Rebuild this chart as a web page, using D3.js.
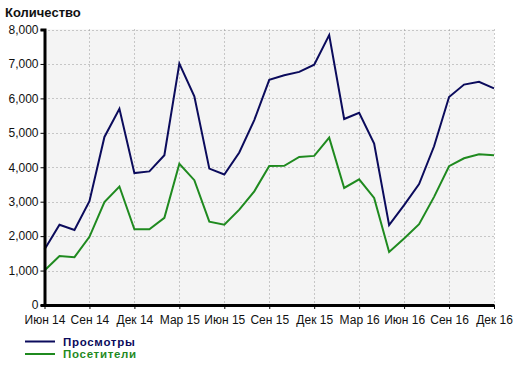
<!DOCTYPE html>
<html><head><meta charset="utf-8">
<script src="https://cdn.jsdelivr.net/npm/d3@7"></script>
<style>body{margin:0;background:#fff;}svg{display:block;font-family:"Liberation Sans",Arial,sans-serif;}</style>
</head><body>
<svg id="c" width="520" height="366"></svg>
<script>
const months = ["2014-06","2014-07","2014-08","2014-09","2014-10","2014-11","2014-12",
"2015-01","2015-02","2015-03","2015-04","2015-05","2015-06","2015-07","2015-08","2015-09","2015-10","2015-11","2015-12",
"2016-01","2016-02","2016-03","2016-04","2016-05","2016-06","2016-07","2016-08","2016-09","2016-10","2016-11","2016-12"];
const views = [1610,2330,2180,3015,4880,5700,3830,3880,4350,7010,6060,3960,3790,4430,5370,6540,6670,6770,6980,7840,5400,5580,4690,2320,2900,3510,4610,6040,6400,6480,6290];
const visitors = [1000,1425,1390,1980,2990,3440,2200,2200,2530,4100,3625,2420,2330,2770,3300,4035,4040,4300,4330,4860,3400,3650,3110,1540,1930,2345,3140,4030,4260,4380,4350];
const tickLabels = ["Июн 14","Сен 14","Дек 14","Мар 15","Июн 15","Сен 15","Дек 15","Мар 16","Июн 16","Сен 16","Дек 16"];
const tickMonths = ["2014-06","2014-09","2014-12","2015-03","2015-06","2015-09","2015-12","2016-03","2016-06","2016-09","2016-12"];
const yTicks = [0,1000,2000,3000,4000,5000,6000,7000,8000];
const seriesNames = ["Просмотры","Посетители"];
const seriesColors = ["#0b0b5c","#1f8a1f"];

const svg = d3.select("#c");
const L = 44.5, R = 494, T = 29.5, B = 305;
const x = d3.scalePoint().domain(months).range([L, R]);
const y = d3.scaleLinear().domain([0, 8000]).range([B, T]);

svg.append("rect").attr("x", L).attr("y", T).attr("width", R - L).attr("height", B - T).attr("fill", "#f4f4f4");

// grid
const g = svg.append("g");
g.selectAll(".hg").data(yTicks.slice(1)).join("line")
  .attr("x1", L).attr("x2", R).attr("y1", d => Math.round(y(d)) + 0.5).attr("y2", d => Math.round(y(d)) + 0.5)
  .attr("stroke", "#999").attr("stroke-dasharray", "1,3");
g.selectAll(".vg").data(tickMonths.slice(1)).join("line")
  .attr("x1", d => Math.round(x(d)) + 0.5).attr("x2", d => Math.round(x(d)) + 0.5).attr("y1", T).attr("y2", B)
  .attr("stroke", "#999").attr("stroke-dasharray", "1,3");

// lines
const line = d3.line().x((d, i) => x(months[i])).y(d => y(d));
[views, visitors].forEach((s, k) => {
  svg.append("path").datum(s).attr("d", line).attr("fill", "none")
    .attr("stroke", seriesColors[k]).attr("stroke-width", 2).attr("stroke-linejoin", "miter");
});

// axes
const yAxis = d3.axisLeft(y).tickValues(yTicks).tickFormat(d3.format(",")).tickSize(4).tickPadding(2);
const ya = svg.append("g").attr("transform", `translate(${L},0)`).call(yAxis);
ya.select(".domain").attr("stroke", "#000").attr("stroke-width", 3);
ya.selectAll("text").attr("font-size", 12).attr("fill", "#111").attr("font-family", "'Liberation Sans',Arial,sans-serif");

const xAxis = d3.axisBottom(x).tickValues(tickMonths).tickFormat((d, i) => tickLabels[i]).tickSize(4).tickPadding(6).tickSizeOuter(0);
const xa = svg.append("g").attr("transform", `translate(0,${B})`).call(xAxis);
xa.select(".domain").attr("stroke", "#000").attr("stroke-width", 3);
xa.selectAll("text").attr("font-size", 12).attr("fill", "#111").attr("font-family", "'Liberation Sans',Arial,sans-serif");

// title
svg.append("text").attr("x", 5).attr("y", 17).attr("font-size", 13).attr("font-weight", "bold").attr("fill", "#111").text("Количество");

// legend
seriesNames.forEach((n, k) => {
  const yy = 341.5 + k * 12.5;
  svg.append("line").attr("x1", 25).attr("x2", 55).attr("y1", yy).attr("y2", yy).attr("stroke", seriesColors[k]).attr("stroke-width", 2);
  svg.append("text").attr("x", 63).attr("y", yy + 4).attr("font-size", 11.5).attr("font-weight", "bold")
    .attr("letter-spacing", "0.7").attr("fill", seriesColors[k]).text(n);
});
</script>
</body></html>
